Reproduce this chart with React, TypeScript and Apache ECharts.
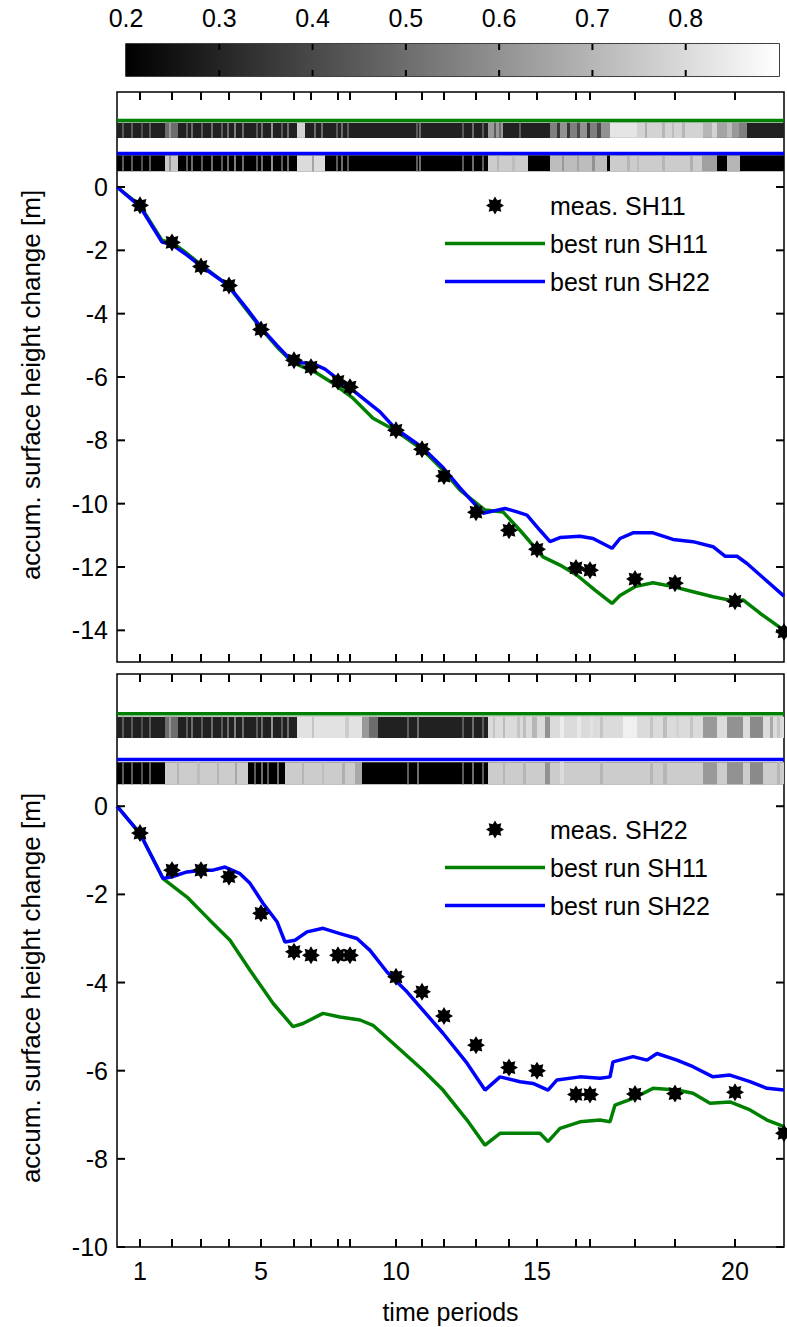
import React, { useEffect, useRef } from "react";
import * as echarts from "echarts";

// ---------------- data ----------------
const T_END = 667; // time axis span (arbitrary time units)
const measTimes = [23, 55, 84, 112, 144, 177, 194, 221, 233, 279, 305, 327, 359, 392, 420, 459, 473, 518, 558, 618, 667];
const periodLabelIdx = [1, 5, 10, 15, 20];

const p1Meas = [-0.58, -1.75, -2.51, -3.11, -4.5, -5.47, -5.69, -6.14, -6.32, -7.68, -8.28, -9.13, -10.27, -10.84, -11.44, -12.03, -12.1, -12.38, -12.51, -13.08, -14.05];
const p2Meas = [-0.61, -1.45, -1.45, -1.6, -2.43, -3.3, -3.38, -3.38, -3.38, -3.87, -4.21, -4.76, -5.42, -5.93, -6.0, -6.54, -6.54, -6.53, -6.52, -6.49, -7.42];

const p1Green = [[0, 0], [23, -0.58], [45, -1.69], [55, -1.75], [70, -2.1], [85, -2.48], [111, -3.11], [130, -3.9], [145, -4.5], [160, -5.05], [175, -5.53], [200, -5.88], [216, -6.2], [236, -6.67], [256, -7.3], [278, -7.68], [305, -8.28], [326, -8.94], [343, -9.57], [368, -10.2], [386, -10.26], [403, -10.84], [426, -11.68], [443, -11.94], [460, -12.26], [478, -12.73], [495, -13.15], [503, -12.9], [518, -12.62], [536, -12.5], [556, -12.62], [576, -12.78], [596, -12.94], [616, -13.07], [626, -13.04], [643, -13.46], [667, -14.0]];
const p1Blue = [[0, 0], [23, -0.62], [45, -1.74], [55, -1.82], [70, -2.15], [85, -2.52], [111, -3.1], [130, -3.85], [145, -4.48], [160, -5.0], [175, -5.5], [185, -5.55], [196, -5.58], [208, -5.75], [220, -6.04], [236, -6.42], [263, -7.1], [278, -7.62], [305, -8.22], [326, -8.86], [343, -9.5], [366, -10.3], [378, -10.22], [388, -10.15], [400, -10.26], [410, -10.36], [423, -10.84], [433, -11.2], [443, -11.07], [463, -11.03], [476, -11.1], [495, -11.41], [503, -11.1], [516, -10.92], [536, -10.92], [556, -11.13], [576, -11.2], [596, -11.36], [608, -11.66], [620, -11.66], [630, -11.89], [667, -12.92]];
const p2Green = [[0, 0], [23, -0.62], [46, -1.64], [70, -2.06], [93, -2.59], [113, -3.04], [133, -3.72], [156, -4.47], [176, -5.0], [186, -4.93], [206, -4.7], [223, -4.78], [243, -4.85], [256, -4.97], [283, -5.52], [306, -5.99], [326, -6.44], [350, -7.12], [368, -7.69], [383, -7.42], [403, -7.42], [423, -7.42], [431, -7.61], [443, -7.31], [463, -7.16], [483, -7.12], [493, -7.16], [498, -6.78], [516, -6.63], [536, -6.4], [560, -6.44], [576, -6.51], [593, -6.74], [613, -6.71], [633, -6.89], [650, -7.12], [667, -7.27]];
const p2Blue = [[0, 0], [23, -0.62], [46, -1.64], [55, -1.6], [70, -1.49], [85, -1.45], [96, -1.45], [108, -1.38], [123, -1.53], [133, -1.75], [146, -2.2], [160, -2.62], [168, -3.08], [178, -3.04], [190, -2.85], [206, -2.77], [223, -2.89], [240, -3.0], [253, -3.27], [270, -3.76], [290, -4.21], [303, -4.55], [326, -5.15], [350, -5.83], [368, -6.44], [383, -6.14], [403, -6.25], [416, -6.29], [431, -6.44], [440, -6.21], [463, -6.14], [483, -6.17], [493, -6.14], [496, -5.8], [516, -5.68], [530, -5.76], [540, -5.61], [560, -5.76], [576, -5.91], [596, -6.14], [613, -6.1], [633, -6.25], [650, -6.4], [667, -6.44]];

const colorbarTicks = [0.2, 0.3, 0.4, 0.5, 0.6, 0.7, 0.8];
const p1YTicks = [-14, -12, -10, -8, -6, -4, -2, 0];
const p2YTicks = [-10, -8, -6, -4, -2, 0];

// strips: background value, blocks [t0, t1, value], thin lines [t, value]
const p1GreenBg = 0.29;
const p1GreenBlocks = [[48, 61, 0.5], [52, 54, 0.62], [180, 188, 0.78], [371, 386, 0.62], [377, 379, 0.45], [382, 384, 0.5], [433, 440, 0.55], [440, 443, 0.35], [443, 450, 0.6], [450, 453, 0.35], [453, 460, 0.55], [460, 463, 0.4], [463, 470, 0.6], [470, 473, 0.35], [473, 480, 0.55], [480, 484, 0.4], [484, 493, 0.6], [493, 520, 0.83], [520, 586, 0.78], [528, 530, 0.68], [545, 548, 0.7], [555, 557, 0.72], [565, 568, 0.7], [586, 595, 0.7], [595, 600, 0.78], [600, 610, 0.65], [610, 615, 0.72], [615, 622, 0.62], [622, 630, 0.55]];
const p1GreenLines = [[6, 0.45], [15, 0.45], [25, 0.42], [33, 0.45], [70, 0.45], [75, 0.5], [85, 0.45], [95, 0.5], [105, 0.45], [111, 0.5], [118, 0.55], [126, 0.5], [140, 0.45], [145, 0.5], [155, 0.6], [165, 0.45], [171, 0.5], [198, 0.5], [205, 0.5], [220, 0.45], [225, 0.5], [231, 0.45], [300, 0.45], [303, 0.5], [346, 0.45], [356, 0.5], [366, 0.45], [403, 0.45]];

const p1BlueBg = 0.2;
const p1BlueBlocks = [[48, 61, 0.75], [52, 54, 0.6], [180, 208, 0.8], [195, 197, 0.65], [371, 411, 0.76], [380, 382, 0.7], [395, 398, 0.72], [433, 490, 0.72], [445, 447, 0.62], [460, 462, 0.65], [475, 478, 0.6], [493, 600, 0.76], [510, 513, 0.7], [520, 522, 0.72], [545, 548, 0.7], [573, 576, 0.68], [585, 600, 0.64], [610, 623, 0.7]];
const p1BlueLines = [[6, 0.45], [15, 0.45], [25, 0.42], [33, 0.45], [70, 0.45], [75, 0.5], [85, 0.45], [95, 0.5], [105, 0.45], [111, 0.5], [118, 0.55], [126, 0.5], [140, 0.45], [145, 0.5], [155, 0.6], [165, 0.45], [171, 0.5], [220, 0.45], [225, 0.5], [231, 0.45], [300, 0.45], [303, 0.5], [346, 0.45], [356, 0.5], [366, 0.45]];

const p2GreenBg = 0.29;
const p2GreenBlocks = [[48, 61, 0.5], [52, 54, 0.62], [180, 261, 0.82], [195, 197, 0.74], [228, 232, 0.76], [245, 252, 0.62], [252, 261, 0.5], [371, 667, 0.8], [376, 378, 0.74], [386, 388, 0.72], [400, 403, 0.74], [406, 409, 0.72], [415, 420, 0.7], [428, 433, 0.6], [443, 447, 0.85], [460, 464, 0.84], [473, 476, 0.82], [483, 486, 0.74], [506, 520, 0.86], [533, 536, 0.74], [546, 550, 0.72], [559, 562, 0.78], [573, 576, 0.74], [586, 600, 0.62], [610, 626, 0.6], [633, 646, 0.58], [653, 656, 0.66], [660, 663, 0.74]];
const p2GreenLines = [[6, 0.45], [15, 0.45], [25, 0.42], [33, 0.45], [70, 0.45], [75, 0.5], [85, 0.45], [95, 0.5], [105, 0.45], [111, 0.5], [118, 0.55], [126, 0.5], [140, 0.45], [145, 0.5], [155, 0.6], [165, 0.45], [171, 0.5], [291, 0.45], [301, 0.5], [346, 0.45], [356, 0.5], [366, 0.45]];

const p2BlueBg = 0.2;
const p2BlueBlocks = [[48, 131, 0.76], [60, 62, 0.7], [80, 83, 0.72], [100, 102, 0.7], [118, 120, 0.66], [168, 245, 0.76], [185, 187, 0.7], [205, 207, 0.72], [225, 228, 0.68], [238, 245, 0.66], [371, 667, 0.76], [386, 388, 0.7], [406, 409, 0.7], [428, 433, 0.6], [443, 447, 0.8], [483, 486, 0.7], [533, 536, 0.7], [546, 550, 0.7], [586, 600, 0.62], [610, 626, 0.6], [633, 646, 0.58], [660, 663, 0.7]];
const p2BlueLines = [[6, 0.45], [15, 0.45], [25, 0.42], [33, 0.45], [138, 0.45], [145, 0.5], [151, 0.45], [161, 0.5], [291, 0.45], [301, 0.5], [346, 0.45], [356, 0.5], [366, 0.45]];

// ---------------- layout / style ----------------
const CMIN = 0.2;
const CMAX = 0.9;
const Y_TOP = 3;
const P1_YMIN = -15;
const P2_YMIN = -10;
const GREEN = "#008000";
const BLUE = "#0000ff";
const FONT = "'Liberation Sans', Arial, Helvetica, sans-serif";
const FS = 25;
const GREEN_LINE_Y = 2.1;
const GREEN_STRIP = [2.03, 1.55];
const BLUE_LINE_Y = 1.06;
const BLUE_STRIP = [1.0, 0.5];
const LINE_ICON = "path://M0 0 H100 V3.5 H0 Z";
const TICK_LEN = 8;
const TICK_W = 2;

function gray(v: number) {
  const g = Math.max(0, Math.min(1, (v - CMIN) / (CMAX - CMIN)));
  const c = Math.round(g * 255);
  return `rgb(${c},${c},${c})`;
}

function starPath() {
  const pts: string[] = [];
  for (let k = 0; k < 16; k++) {
    const a = (k * Math.PI) / 8 - Math.PI / 2;
    const r = k % 2 === 0 ? 50 : 32;
    pts.push(`${(50 + r * Math.cos(a)).toFixed(2)} ${(50 + r * Math.sin(a)).toFixed(2)}`);
  }
  return "path://M" + pts.join(" L") + " Z";
}
const STAR = starPath();

function stripItems(bg: number, blocks: number[][], lines: number[][], yr: number[]) {
  const out: number[][] = [[0, T_END, yr[0], yr[1], bg]];
  blocks.forEach((b) => out.push([b[0], b[1], yr[0], yr[1], b[2]]));
  lines.forEach((l) => out.push([l[0] - 1, l[0] + 1, yr[0], yr[1], l[1]]));
  return out;
}

const stripRender = (params: any, api: any) => {
  const a = api.coord([api.value(0), api.value(2)]);
  const b = api.coord([api.value(1), api.value(3)]);
  return {
    type: "rect",
    shape: { x: a[0], y: a[1], width: Math.max(b[0] - a[0], 1), height: b[1] - a[1] },
    style: { fill: gray(api.value(4)) },
  };
};

// tick marks as rect symbols on the grid edges, offset inward
function xTickSeries(xi: number, yi: number, vals: number[], len: number, yLow: number, yHigh: number) {
  const data: any[] = [];
  vals.forEach((v) => {
    data.push({ value: [v, yHigh], symbolOffset: [0, len / 2] });
    data.push({ value: [v, yLow], symbolOffset: [0, -len / 2] });
  });
  return {
    type: "scatter",
    name: "xticks",
    xAxisIndex: xi,
    yAxisIndex: yi,
    silent: true,
    clip: false,
    z: 20,
    symbol: "rect",
    symbolSize: [TICK_W, len],
    itemStyle: { color: "#000", opacity: 1 },
    data,
  };
}
function yTickSeries(xi: number, yi: number, vals: number[], len: number, xLow: number, xHigh: number) {
  const data: any[] = [];
  vals.forEach((v) => {
    data.push({ value: [xLow, v], symbolOffset: [len / 2, 0] });
    data.push({ value: [xHigh, v], symbolOffset: [-len / 2, 0] });
  });
  return {
    type: "scatter",
    name: "yticks",
    xAxisIndex: xi,
    yAxisIndex: yi,
    silent: true,
    clip: false,
    z: 20,
    symbol: "rect",
    symbolSize: [len, TICK_W],
    itemStyle: { color: "#000", opacity: 1 },
    data,
  };
}

const labelStyle = { color: "#000", fontSize: FS, fontFamily: FONT };
const axLine = { show: false, onZero: false };

function panelSeries(
  xi: number,
  yi: number,
  measName: string,
  meas: number[],
  green: number[][],
  blue: number[][],
  strips: { green: number[][]; blue: number[][] },
  yTicks: number[],
  yMin: number
) {
  return [
    {
      type: "custom",
      name: "strip-green",
      xAxisIndex: xi,
      yAxisIndex: yi,
      renderItem: stripRender,
      encode: { x: [0, 1], y: [2, 3] },
      data: strips.green,
      silent: true,
      z: 1,
    },
    {
      type: "custom",
      name: "strip-blue",
      xAxisIndex: xi,
      yAxisIndex: yi,
      renderItem: stripRender,
      encode: { x: [0, 1], y: [2, 3] },
      data: strips.blue,
      silent: true,
      z: 1,
    },
    {
      type: "line",
      name: "bar-green",
      xAxisIndex: xi,
      yAxisIndex: yi,
      data: [[0, GREEN_LINE_Y], [T_END, GREEN_LINE_Y]],
      showSymbol: false,
      symbol: "none",
      lineStyle: { color: GREEN, width: 3.5 },
      silent: true,
      z: 2,
    },
    {
      type: "line",
      name: "bar-blue",
      xAxisIndex: xi,
      yAxisIndex: yi,
      data: [[0, BLUE_LINE_Y], [T_END, BLUE_LINE_Y]],
      showSymbol: false,
      symbol: "none",
      lineStyle: { color: BLUE, width: 3.5 },
      silent: true,
      z: 2,
    },
    {
      type: "line",
      name: "best run SH11",
      xAxisIndex: xi,
      yAxisIndex: yi,
      data: green,
      showSymbol: false,
      symbol: "none",
      color: GREEN,
      lineStyle: { color: GREEN, width: 3.5 },
      z: 3,
    },
    {
      type: "line",
      name: "best run SH22",
      xAxisIndex: xi,
      yAxisIndex: yi,
      data: blue,
      showSymbol: false,
      symbol: "none",
      color: BLUE,
      lineStyle: { color: BLUE, width: 3.5 },
      z: 4,
    },
    {
      type: "scatter",
      name: measName,
      xAxisIndex: xi,
      yAxisIndex: yi,
      data: measTimes.map((t, i) => [t, meas[i]]),
      symbol: STAR,
      symbolSize: 18,
      itemStyle: { color: "#000", opacity: 1 },
      z: 5,
    },
    xTickSeries(xi, yi, measTimes.slice(0, 20), TICK_LEN, yMin, Y_TOP),
    yTickSeries(xi, yi, yTicks, TICK_LEN, 0, T_END),
  ];
}

function xAxisFor(gridIndex: number, withLabels: boolean) {
  const labelVals = periodLabelIdx.map((i) => measTimes[i - 1]);
  return {
    type: "value",
    gridIndex,
    min: 0,
    max: T_END,
    position: "bottom",
    splitLine: { show: false },
    axisLine: axLine,
    axisTick: { show: false },
    axisLabel: withLabels
      ? {
          ...labelStyle,
          margin: 11,
          customValues: labelVals,
          formatter: (v: number) => String(measTimes.indexOf(v) + 1),
        }
      : { show: false },
    name: withLabels ? "time periods" : "",
    nameLocation: "middle",
    nameGap: 52,
    nameTextStyle: labelStyle,
  };
}

function yAxisFor(gridIndex: number, min: number, ticks: number[]) {
  return {
    type: "value",
    gridIndex,
    min,
    max: Y_TOP,
    position: "left",
    splitLine: { show: false },
    axisLine: axLine,
    axisTick: { show: false },
    axisLabel: { ...labelStyle, margin: 9, customValues: ticks },
  };
}

function legendFor(top: number, measName: string) {
  return {
    orient: "vertical",
    left: 440,
    top,
    itemWidth: 100,
    itemHeight: 18,
    itemGap: 13,
    textStyle: { ...labelStyle },
    selectedMode: false,
    data: [
      { name: measName, icon: STAR, itemStyle: { color: "#000", opacity: 1 } },
      { name: "best run SH11", icon: LINE_ICON, itemStyle: { color: GREEN } },
      { name: "best run SH22", icon: LINE_ICON, itemStyle: { color: BLUE } },
    ],
  };
}

export default function App() {
  const ref = useRef<HTMLDivElement>(null);
  useEffect(() => {
    if (!ref.current) return;
    const chart = echarts.init(ref.current, undefined, { renderer: "svg" });

    const p1Strips = {
      green: stripItems(p1GreenBg, p1GreenBlocks, p1GreenLines, GREEN_STRIP),
      blue: stripItems(p1BlueBg, p1BlueBlocks, p1BlueLines, BLUE_STRIP),
    };
    const p2Strips = {
      green: stripItems(p2GreenBg, p2GreenBlocks, p2GreenLines, GREEN_STRIP),
      blue: stripItems(p2BlueBg, p2BlueBlocks, p2BlueLines, BLUE_STRIP),
    };

    const titleStyle = { text: "accum. surface height change [m]", fill: "#000", font: `26px ${FONT}`, align: "center", verticalAlign: "middle" };

    const option: any = {
      animation: false,
      backgroundColor: "#fff",
      textStyle: { fontFamily: FONT },
      grid: [
        { left: 126, top: 44, width: 653, height: 32, show: true, borderColor: "#000", borderWidth: 1.5, backgroundColor: "transparent" },
        { left: 117, top: 92, width: 667, height: 570, show: true, borderColor: "#000", borderWidth: 1.5, backgroundColor: "transparent" },
        { left: 117, top: 674, width: 667, height: 573, show: true, borderColor: "#000", borderWidth: 1.5, backgroundColor: "transparent" },
      ],
      xAxis: [
        {
          type: "value",
          gridIndex: 0,
          position: "top",
          min: CMIN,
          max: CMAX,
          splitLine: { show: false },
          axisLine: axLine,
          axisTick: { show: false },
          axisLabel: { ...labelStyle, margin: 14, customValues: colorbarTicks, formatter: (v: number) => v.toFixed(1) },
        },
        xAxisFor(1, false),
        xAxisFor(2, true),
      ],
      yAxis: [
        { type: "value", gridIndex: 0, min: 0, max: 1, show: false },
        yAxisFor(1, P1_YMIN, p1YTicks),
        yAxisFor(2, P2_YMIN, p2YTicks),
      ],
      legend: [legendFor(188, "meas. SH11"), legendFor(812, "meas. SH22")],
      graphic: [
        { type: "text", x: 31, y: 385, rotation: Math.PI / 2, style: titleStyle },
        { type: "text", x: 31, y: 988, rotation: Math.PI / 2, style: titleStyle },
      ],
      series: [
        {
          type: "custom",
          name: "colorbar",
          xAxisIndex: 0,
          yAxisIndex: 0,
          silent: true,
          data: [[CMIN, CMAX, 0, 1]],
          encode: { x: [0, 1], y: [2, 3] },
          renderItem: (params: any, api: any) => {
            const a = api.coord([api.value(0), api.value(3)]);
            const b = api.coord([api.value(1), api.value(2)]);
            return {
              type: "rect",
              shape: { x: a[0], y: a[1], width: b[0] - a[0], height: b[1] - a[1] },
              style: {
                fill: new echarts.graphic.LinearGradient(0, 0, 1, 0, [
                  { offset: 0, color: "#000" },
                  { offset: 1, color: "#fff" },
                ]),
              },
            };
          },
        },
        xTickSeries(0, 0, colorbarTicks.slice(1), 6, 0, 1),
        ...panelSeries(1, 1, "meas. SH11", p1Meas, p1Green, p1Blue, p1Strips, p1YTicks, P1_YMIN),
        ...panelSeries(2, 2, "meas. SH22", p2Meas, p2Green, p2Blue, p2Strips, p2YTicks, P2_YMIN),
      ],
    };
    chart.setOption(option);
    return () => chart.dispose();
  }, []);
  return <div ref={ref} style={{ position: "absolute", left: 0, top: 0, width: 787, height: 1327 }} />;
}
